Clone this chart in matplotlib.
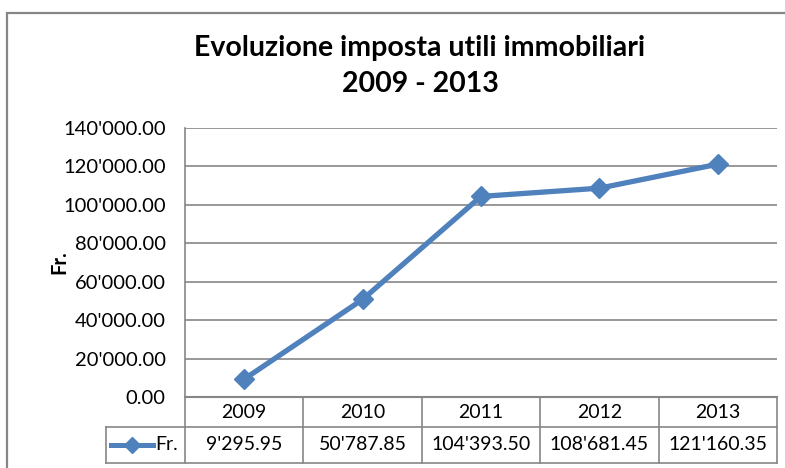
import matplotlib.pyplot as plt
from matplotlib.lines import Line2D
from matplotlib.patches import Rectangle
import matplotlib.transforms as mtransforms

years = ["2009", "2010", "2011", "2012", "2013"]
values = [9295.95, 50787.85, 104393.50, 108681.45, 121160.35]
y_ticks = [0, 20000, 40000, 60000, 80000, 100000, 120000, 140000]
series_name = "Fr."
title = "Evoluzione imposta utili immobiliari\n2009 - 2013"

BLUE = "#4F81BD"
GRID = "#868686"
FONT = ["Liberation Sans Narrow", "Lato", "DejaVu Sans"]

W, H = 785, 468


def fmt(v):
    return f"{v:,.2f}".replace(",", "'")


plt.rcParams["font.family"] = FONT
fig = plt.figure(figsize=(W / 100, H / 100), dpi=100)

# outer chart frame (extends past the right and bottom edges)
fig.patches.append(Rectangle((7 / W, -0.1), 1.2, (H - 13) / H + 0.1,
                             transform=fig.transFigure, fill=False,
                             edgecolor=GRID, linewidth=1.6))

left, right, top, bottom = 185, 777, 128, 397
ax = fig.add_axes([left / W, (H - bottom) / H, (right - left) / W, (bottom - top) / H])

x = list(range(len(years)))
ax.plot(x, values, color=BLUE, linewidth=3.8, marker="D", markersize=10,
        markeredgecolor=BLUE, markerfacecolor=BLUE, clip_on=False, zorder=3)

ax.set_xlim(-0.5, len(years) - 0.5)
ax.set_ylim(0, 140000)
ax.set_yticks(y_ticks)
ax.set_yticklabels([fmt(v) for v in y_ticks])
ax.set_xticks([])
ax.tick_params(axis="y", length=0, pad=14, labelsize=14.5, colors="black")
ax.grid(axis="y", color=GRID, linewidth=1.2)
ax.set_axisbelow(True)
for s in ["top", "right"]:
    ax.spines[s].set_visible(False)
ax.spines["left"].set_color(GRID)
ax.spines["bottom"].set_color(GRID)
ax.spines["left"].set_linewidth(1.2)
ax.spines["bottom"].set_linewidth(1.5)

ax.set_ylabel(series_name, fontsize=14.5, fontweight="bold")
ax.yaxis.set_label_coords(-0.196, 0.5)

fig.text(420 / W, 1 - 35 / H, title, ha="center", va="top", fontsize=20.5,
         fontweight="bold", linespacing=1.5)

# data table below the plot (x in data coords, y in axes coords)
trans = mtransforms.blended_transform_factory(ax.transData, ax.transAxes)
axh = bottom - top
row1 = -(427 - bottom) / axh
row2 = -(463 - bottom) / axh
leg_left = -0.5 - (left - 106) / ((right - left) / len(years))
lk = dict(color=GRID, linewidth=1.2, transform=trans, clip_on=False)

for b in [i - 0.5 for i in range(len(years) + 1)]:
    ax.add_line(Line2D([b, b], [0, row2], **lk))
ax.add_line(Line2D([leg_left, len(years) - 0.5], [row1, row1], **lk))
ax.add_line(Line2D([leg_left, len(years) - 0.5], [row2, row2], **lk))
ax.add_line(Line2D([leg_left, leg_left], [row1, row2], **lk))

for i, (yr, v) in enumerate(zip(years, values)):
    ax.text(i, row1 / 2, yr, transform=trans, ha="center", va="center", fontsize=14)
    ax.text(i, (row1 + row2) / 2, fmt(v), transform=trans, ha="center",
            va="center", fontsize=14)

# legend key inside the table
ym = (row1 + row2) / 2
ax.add_line(Line2D([leg_left + 0.04, leg_left + 0.4], [ym, ym], color=BLUE,
                   linewidth=3.6, transform=trans, clip_on=False))
ax.add_line(Line2D([leg_left + 0.22], [ym], color=BLUE, marker="D", markersize=8,
                   transform=trans, clip_on=False))
ax.text(leg_left + 0.42, ym, series_name, transform=trans, ha="left",
        va="center", fontsize=14)

fig.savefig("out.png", dpi=100)
